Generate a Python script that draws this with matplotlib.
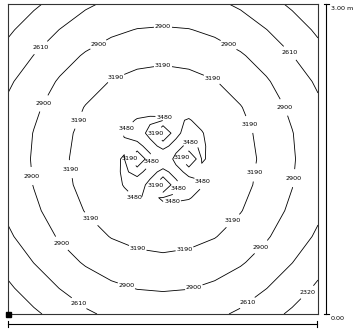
import numpy as np
import matplotlib
matplotlib.use("Agg")
import matplotlib.pyplot as plt

W, H = 356, 329
nan = np.nan

# coarse grid coordinates (m)
x_m = [0.0, 0.25, 0.5, 0.75, 1.0, 1.25, 1.5, 1.75, 2.0, 2.25, 2.5, 2.75, 3.0]
y_m = [3.0, 2.75, 2.5, 2.25, 2.0, 1.75, 1.5, 1.25, 1.0, 0.75, 0.5, 0.25, 0.0]

# head values, rows from top (y=3) to bottom (y=0)
# (centre cells are covered by the fine grid below)
head = [
    [2109, 2274, 2420, 2570, 2660, 2688, 2707, 2688, 2660, 2570, 2420, 2274, 2109],
    [2274, 2454, 2615, 2745, 2846, 2910, 2929, 2910, 2846, 2745, 2615, 2454, 2274],
    [2420, 2615, 2785, 2929, 3034, 3102, 3127, 3102, 3034, 2929, 2785, 2615, 2420],
    [2570, 2745, 2929, 3079, 3202, 3270, 3296, 3270, 3202, 3079, 2929, 2745, 2570],
    [2660, 2846, 3034, 3202, 3323, 3415, 3455, 3415, 3323, 3202, 3034, 2846, 2660],
    [2688, 2910, 3102, 3270, 3415, nan, nan, nan, 3415, 3270, 3102, 2910, 2688],
    [2707, 2929, 3127, 3296, 3455, nan, nan, nan, 3455, 3296, 3127, 2929, 2707],
    [2688, 2910, 3102, 3270, 3415, nan, nan, nan, 3415, 3270, 3102, 2910, 2688],
    [2660, 2846, 3034, 3202, 3323, 3415, 3455, 3415, 3323, 3202, 3034, 2846, 2660],
    [2570, 2745, 2929, 3079, 3202, 3270, 3296, 3270, 3202, 3079, 2929, 2745, 2570],
    [2420, 2615, 2785, 2929, 3034, 3102, 3127, 3102, 3034, 2929, 2785, 2615, 2420],
    [2274, 2454, 2615, 2745, 2846, 2910, 2929, 2910, 2846, 2745, 2615, 2454, 2274],
    [2109, 2274, 2420, 2570, 2660, 2688, 2707, 2688, 2660, 2570, 2420, 2274, 2109],
]

# fine centre grid (1.0 .. 2.0 m), rows from top (y=2) to bottom (y=1)
xf_m = [1.0, 1.125, 1.25, 1.375, 1.5, 1.625, 1.75, 1.875, 2.0]
yf_m = [2.0, 1.875, 1.75, 1.625, 1.5, 1.375, 1.25, 1.125, 1.0]
head_centre = [
    [3323, 3369, 3415, 3435, 3455, 3435, 3415, 3369, 3323],
    [3369, 3440, 3490, 3500, 3490, 3460, 3490, 3440, 3369],
    [3415, 3490, 3550, 3440, 2780, 3440, 3550, 3490, 3415],
    [3435, 3460, 3440, 3530, 3440, 3530, 3440, 3500, 3435],
    [3455, 3490, 2780, 3440, 3600, 3440, 2780, 3490, 3455],
    [3435, 3500, 3440, 3530, 3440, 3530, 3440, 3460, 3435],
    [3415, 3490, 3550, 3440, 2780, 3440, 3550, 3490, 3415],
    [3369, 3440, 3490, 3460, 3490, 3500, 3490, 3440, 3369],
    [3323, 3369, 3415, 3435, 3455, 3435, 3415, 3369, 3323],
]

levels = [2320, 2610, 2900, 3190, 3480]
scale_labels = ["3.00 m", "0.00"]

# label anchor positions in pixels of the picture
label_px_outer = [
    (306, 291),
    (42, 49), (288, 55), (80, 302), (246, 301),
    (163, 27), (98, 44), (228, 46), (43, 103), (283, 108), (32, 176), (292, 178),
    (61, 244), (261, 247), (127, 284), (193, 285),
    (163, 63), (115, 76), (213, 77), (73, 118), (253, 123), (65, 170), (258, 173),
    (88, 222), (235, 223), (137, 252), (185, 252),
]
label_px_centre = [
    (167, 114), (127, 129), (190, 144), (150, 161), (204, 181), (176, 187),
    (133, 199), (172, 204),
    (155, 134), (130, 159), (183, 159), (157, 185),
]

# plot box in pixels
bx0, bx1, by0, by1 = 8, 318, 4, 314

fig = plt.figure(figsize=(W / 100, H / 100), dpi=100)
fig.patch.set_facecolor("white")
ax = fig.add_axes([bx0 / W, 1 - by1 / H, (bx1 - bx0) / W, (by1 - by0) / H])


def px_to_data(px, py):
    return ((px - bx0) / (bx1 - bx0) * 3.0, (by1 - py) / (by1 - by0) * 3.0)


X, Y = np.meshgrid(np.array(x_m), np.array(y_m))
Z = np.ma.masked_invalid(np.array(head, dtype=float))
cs1 = ax.contour(X, Y, Z, levels=levels, colors="black", linewidths=0.6)

Xf, Yf = np.meshgrid(np.array(xf_m), np.array(yf_m))
Zf = np.array(head_centre, dtype=float)
cs2 = ax.contour(Xf, Yf, Zf, levels=[3190, 3480], colors="black", linewidths=0.6)

lab_kw = dict(fmt="%.0f", fontsize=4.6, inline=True, inline_spacing=1.0)
t1 = ax.clabel(cs1, manual=[px_to_data(*p) for p in label_px_outer], **lab_kw)
t2 = ax.clabel(cs2, manual=[px_to_data(*p) for p in label_px_centre], **lab_kw)
for t in list(t1) + list(t2):
    t.set_rotation(0)

ax.set_xlim(0, 3)
ax.set_ylim(0, 3)
ax.set_xticks([])
ax.set_yticks([])
for s in ax.spines.values():
    s.set_linewidth(0.8)
    s.set_color("#333333")


def fx(px):
    return px / W


def fy(py):
    return 1 - py / H


lk = dict(color="black", linewidth=0.8, transform=fig.transFigure)
# vertical scale bar
fig.add_artist(plt.Line2D([fx(326), fx(326)], [fy(4), fy(314)], **lk))
fig.add_artist(plt.Line2D([fx(323.5), fx(329)], [fy(4), fy(4)], **lk))
fig.add_artist(plt.Line2D([fx(323.5), fx(329)], [fy(314), fy(314)], **lk))
fig.text(fx(331), fy(8), scale_labels[0], fontsize=4.6, va="center", ha="left",
         family="DejaVu Sans")
fig.text(fx(331), fy(319), scale_labels[1], fontsize=4.6, va="center", ha="left",
         family="DejaVu Sans")
# horizontal bar
fig.add_artist(plt.Line2D([fx(8), fx(317)], [fy(324), fy(324)], **lk))
fig.add_artist(plt.Line2D([fx(8), fx(8)], [fy(321), fy(327)], **lk))
fig.add_artist(plt.Line2D([fx(317), fx(317)], [fy(321), fy(327)], **lk))
# origin marker
fig.add_artist(plt.Rectangle((fx(5.5), fy(316.5)), 5 / W, 5 / H,
                             transform=fig.transFigure, color="black"))

fig.savefig("out.png", dpi=100, facecolor="white")
